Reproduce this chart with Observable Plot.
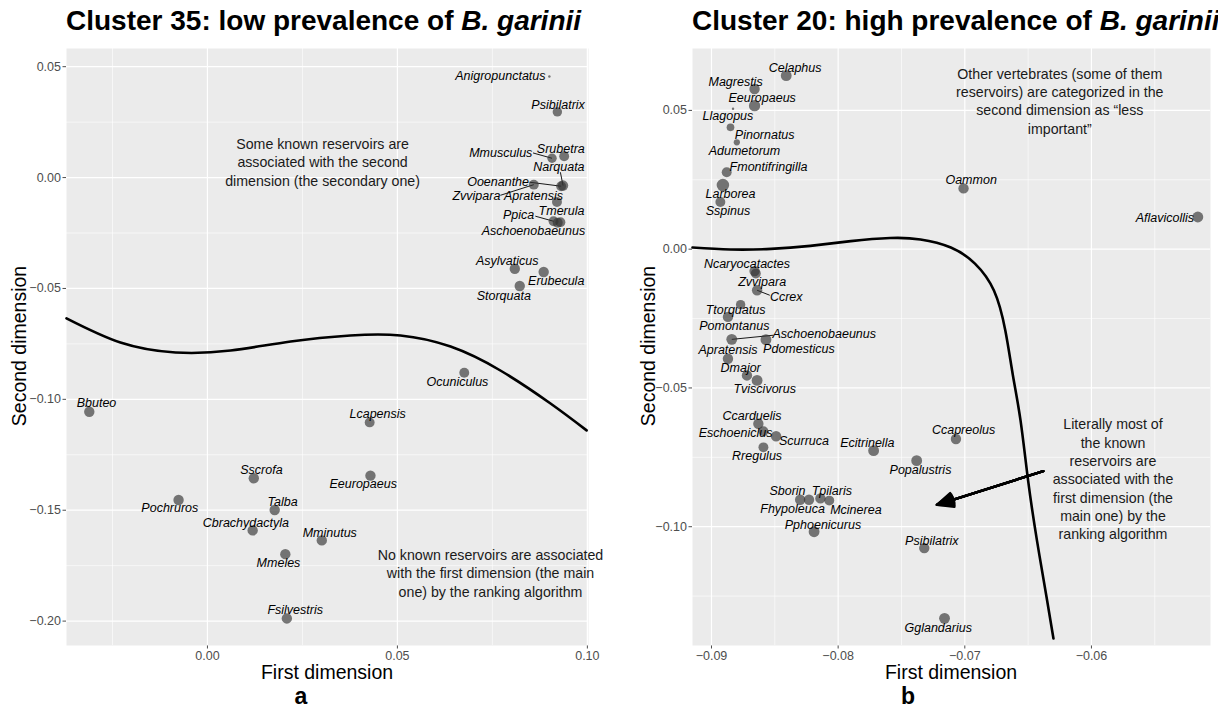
<!DOCTYPE html>
<html>
<head>
<meta charset="utf-8">
<script src="https://cdn.jsdelivr.net/npm/d3@7"></script>
<script src="https://cdn.jsdelivr.net/npm/@observablehq/plot@0.6"></script>
<style>
  html, body { margin: 0; padding: 0; background: white; }
  #root { position: relative; width: 1218px; height: 708px; overflow: hidden; font-family: "Liberation Sans", Helvetica, Arial, sans-serif; }
  .title { position: absolute; top: 5px; font-size: 28px; font-weight: bold; white-space: nowrap; color: #000; }
  .ytitle { position: absolute; font-size: 19.5px; white-space: nowrap; transform: translate(-50%, -50%) rotate(-90deg); color: #000; }
  .xtitle { position: absolute; font-size: 19.5px; white-space: nowrap; transform: translate(-50%, -50%); color: #000; }
  .tag { position: absolute; font-size: 23px; font-weight: bold; transform: translate(-50%, -50%); color: #000; }
  .panel { position: absolute; top: 40px; }
</style>
</head>
<body>
<div id="root">
  <div class="title" style="left:66px">Cluster 35: low prevalence of <i>B. garinii</i></div>
  <div class="title" style="left:692px">Cluster 20: high prevalence of <i>B. garinii</i></div>
  <div class="ytitle" style="left:19px; top:346px">Second dimension</div>
  <div class="ytitle" style="left:648px; top:346px">Second dimension</div>
  <div class="xtitle" style="left:327px; top:672px">First dimension</div>
  <div class="xtitle" style="left:951px; top:672px">First dimension</div>
  <div class="tag" style="left:301px; top:696px">a</div>
  <div class="tag" style="left:908px; top:696px">b</div>
  <div class="panel" id="left" style="left:0px"></div>
  <div class="panel" id="right" style="left:620px"></div>
</div>
<script>
// ---------------- Panel a: Cluster 35 ----------------
const leftNames = ["Anigropunctatus","Psibilatrix","Mmusculus","Srubetra","Narquata","Ooenanthe","Zvvipara","Apratensis","Tmerula","Ppica","Aschoenobaeunus","Asylvaticus","Erubecula","Storquata","Ocuniculus","Bbuteo","Lcapensis","Sscrofa","Eeuropaeus","Pochruros","Talba","Cbrachydactyla","Mminutus","Mmeles","Fsilvestris"];
const leftX = [0.0900,0.0921,0.0907,0.0939,0.0936,0.0931,0.0859,0.0920,0.0929,0.0911,0.0922,0.0809,0.0885,0.0822,0.0676,-0.0311,0.0427,0.0122,0.0429,-0.0076,0.0177,0.0119,0.0301,0.0205,0.0209];
const leftY = [0.0456,0.0296,0.0087,0.0096,-0.0036,-0.0039,-0.0032,-0.0110,-0.0201,-0.0197,-0.0204,-0.0411,-0.0426,-0.0489,-0.0880,-0.1056,-0.1104,-0.1356,-0.1344,-0.1454,-0.1499,-0.1591,-0.1636,-0.1698,-0.1988];
const leftWeight = [0.03,0.45,0.45,0.5,0.55,0.5,0.5,0.5,0.5,0.5,0.5,0.55,0.55,0.55,0.5,0.55,0.5,0.55,0.55,0.55,0.55,0.55,0.55,0.55,0.55];
// label anchor positions (data space, from the repelled labels)
const leftLabelX = [0.0771,0.0923,0.0772,0.0930,0.0925,0.0765,0.0708,0.0858,0.0932,0.0819,0.0858,0.0789,0.0918,0.0780,0.0658,-0.0292,0.0448,0.0142,0.0410,-0.0099,0.0198,0.0101,0.0322,0.0187,0.0231];
const leftLabelY = [0.0456,0.0329,0.0111,0.0131,0.0046,-0.0019,-0.0084,-0.0084,-0.0152,-0.0171,-0.0242,-0.0377,-0.0467,-0.0532,-0.0920,-0.1018,-0.1066,-0.1319,-0.1383,-0.1492,-0.1463,-0.1556,-0.1601,-0.1737,-0.1950];
// connector segments: label name, label-side end
const leftSegName = ["Mmusculus","Ooenanthe","Zvvipara","Narquata","Ppica"];
const leftSegX = [0.0857,0.0848,0.0771,0.0929,0.0863];
const leftSegY = [0.0111,-0.0021,-0.0080,0.0024,-0.0174];
// hand-drawn separating curve
const leftCurveX = [-0.0371,-0.0229,-0.0084,0.0061,0.0219,0.0376,0.0508,0.0640,0.0771,0.0903,0.0998];
const leftCurveY = [-0.0635,-0.0744,-0.0789,-0.0780,-0.0739,-0.0712,-0.0712,-0.0762,-0.0870,-0.1019,-0.1140];
const leftNotes = ["Some known reservoirs are\nassociated with the second\ndimension (the secondary one)", "No known reservoirs are associated\nwith the first dimension (the main\none) by the ranking algorithm"];
const leftNoteX = [0.0303, 0.0745];
const leftNoteY = [0.0072, -0.1781];
const leftXTicks = [0.00, 0.05, 0.10];
const leftXMinor = [-0.025, 0.025, 0.075];
const leftYTicks = [0.05, 0.00, -0.05, -0.10, -0.15, -0.20];
const leftYMinor = [0.025, -0.025, -0.075, -0.125, -0.175];

// ---------------- Panel b: Cluster 20 ----------------
const rightNames = ["Celaphus","Magrestis","Eeuropaeus","Llagopus","Pinornatus","Adumetorum","Fmontifringilla","Larborea","Sspinus","Oammon","Aflavicollis","Ncaryocatactes","Zvvipara","Ccrex","Ttorquatus","Pomontanus","Aschoenobaeunus","Pdomesticus","Apratensis","Dmajor","Tviscivorus","Ccarduelis","Eschoeniclus","Scurruca","Rregulus","Ecitrinella","Ccapreolus","Popalustris","Sborin","Fhypoleuca","Tpilaris","Mcinerea","Pphoenicurus","Psibilatrix","Gglandarius"];
const rightX = [-0.0841,-0.0866,-0.0866,-0.0883,-0.0885,-0.0880,-0.0888,-0.0891,-0.0893,-0.0701,-0.0516,-0.0866,-0.0865,-0.0864,-0.0877,-0.0887,-0.0884,-0.0857,-0.0887,-0.0872,-0.0864,-0.0863,-0.0859,-0.0849,-0.0859,-0.0772,-0.0707,-0.0738,-0.0830,-0.0823,-0.0814,-0.0807,-0.0819,-0.0732,-0.0716];
const rightY = [0.0625,0.0577,0.0517,0.0506,0.0439,0.0385,0.0277,0.0231,0.0170,0.0219,0.0116,-0.0079,-0.0088,-0.0148,-0.0200,-0.0244,-0.0325,-0.0326,-0.0395,-0.0455,-0.0473,-0.0629,-0.0656,-0.0674,-0.0714,-0.0726,-0.0684,-0.0762,-0.0903,-0.0903,-0.0898,-0.0906,-0.1018,-0.1077,-0.1330];
const rightWeight = [0.6,0.55,0.65,0.03,0.3,0.2,0.5,0.8,0.5,0.55,0.6,0.55,0.5,0.55,0.45,0.55,0.6,0.6,0.55,0.55,0.6,0.55,0.5,0.55,0.5,0.6,0.55,0.6,0.55,0.55,0.55,0.5,0.6,0.55,0.6];
const rightLabelX = [-0.0834,-0.0881,-0.0860,-0.0887,-0.0858,-0.0874,-0.0855,-0.0885,-0.0887,-0.0695,-0.0542,-0.0872,-0.0860,-0.0841,-0.0881,-0.0882,-0.0811,-0.0831,-0.0887,-0.0877,-0.0858,-0.0868,-0.0881,-0.0827,-0.0864,-0.0777,-0.0701,-0.0735,-0.0840,-0.0836,-0.0805,-0.0786,-0.0812,-0.0726,-0.0721];
const rightLabelY = [0.0652,0.0604,0.0544,0.0478,0.0412,0.0355,0.0297,0.0199,0.0137,0.0249,0.0113,-0.0052,-0.0120,-0.0172,-0.0218,-0.0277,-0.0307,-0.0358,-0.0365,-0.0427,-0.0505,-0.0602,-0.0662,-0.0692,-0.0746,-0.0698,-0.0653,-0.0794,-0.0873,-0.0936,-0.0873,-0.0939,-0.0993,-0.1051,-0.1364];
const rightSegName = ["Ccrex","Aschoenobaeunus"];
const rightSegX = [-0.0854,-0.0851];
const rightSegY = [-0.0166,-0.0310];
const rightCurveX = [-0.0915,-0.0885,-0.0853,-0.0822,-0.0790,-0.0759,-0.0735,-0.0711,-0.0692,-0.0677,-0.0668,-0.0662,-0.0656,-0.0650,-0.0643,-0.0635,-0.0630];
const rightCurveY = [0.0006,-0.0001,0.0001,0.0012,0.0029,0.0040,0.0035,0.0006,-0.0052,-0.0149,-0.0293,-0.0455,-0.0617,-0.0834,-0.1050,-0.1266,-0.1403];
const rightNotes = ["Other vertebrates (some of them\nreservoirs) are categorized in the\nsecond dimension as \u201cless\nimportant\u201d", "Literally most of\nthe known\nreservoirs are\nassociated with the\nfirst dimension (the\nmain one) by the\nranking algorithm"];
const rightNoteX = [-0.0625, -0.0583];
const rightNoteY = [0.0536, -0.0826];
const rightArrowFrom = [-0.0638, -0.0800];
const rightArrowTo = [-0.0722, -0.0921];
const rightXTicks = [-0.09, -0.08, -0.07, -0.06];
const rightXMinor = [-0.085, -0.075, -0.065, -0.055];
const rightYTicks = [0.05, 0.00, -0.05, -0.10];
const rightYMinor = [0.025, -0.025, -0.075, -0.125];

const FONT = "Liberation Sans, Helvetica, Arial, sans-serif";

function buildPanel(cfg) {
  const pts = cfg.names.map((n, i) => ({name: n, x: cfg.x[i], y: cfg.y[i], w: cfg.w[i], lx: cfg.lx[i], ly: cfg.ly[i]}));
  const byName = new Map(pts.map(p => [p.name, p]));
  const segs = cfg.segName.map((n, i) => ({x1: byName.get(n).x, y1: byName.get(n).y, x2: cfg.segX[i], y2: cfg.segY[i]}));
  const curve = cfg.curveX.map((x, i) => ({x, y: cfg.curveY[i]}));
  const notes = cfg.notes.map((t, i) => ({t, x: cfg.noteX[i], y: cfg.noteY[i]}));
  const marks = [
    Plot.frame({fill: "#ebebeb", stroke: "none"}),
    Plot.ruleX(cfg.xMinor, {stroke: "white", strokeWidth: 0.6}),
    Plot.ruleY(cfg.yMinor, {stroke: "white", strokeWidth: 0.6}),
    Plot.ruleX(cfg.xTicks, {stroke: "white", strokeWidth: 1.2}),
    Plot.ruleY(cfg.yTicks, {stroke: "white", strokeWidth: 1.2}),
    Plot.text(notes, {x: "x", y: "y", text: "t", fontSize: 14.2, lineHeight: 1.29, fill: "#1a1a1a", fontFamily: FONT}),
    Plot.line(curve, {x: "x", y: "y", curve: "natural", stroke: "black", strokeWidth: 2.6}),
    Plot.link(segs, {x1: "x1", y1: "y1", x2: "x2", y2: "y2", stroke: "black", strokeWidth: 0.9}),
    Plot.dot(pts, {x: "x", y: "y", r: "w", fill: "#333333", fillOpacity: 0.65, stroke: "none"}),
    Plot.text(pts, {x: "lx", y: "ly", text: "name", fontSize: 12.5, fontStyle: "italic", fill: "black", fontFamily: FONT})
  ];
  if (cfg.arrowFrom) {
    const arrowData = [{x1: cfg.arrowFrom[0], y1: cfg.arrowFrom[1], x2: cfg.arrowTo[0], y2: cfg.arrowTo[1]}];
    // closed (filled) head: overlay heads of several opening angles
    for (const a of [8, 18, 28, 38, 48]) {
      marks.push(Plot.arrow(arrowData, {x1: "x1", y1: "y1", x2: "x2", y2: "y2", stroke: "black", strokeWidth: 2.4, headLength: 11, headAngle: a}));
    }
  }
  return Plot.plot({
    width: cfg.width, height: 640,
    marginLeft: cfg.marginLeft, marginRight: cfg.marginRight, marginTop: 8, marginBottom: 35,
    style: {fontFamily: FONT, fontSize: "12.5px", color: "#4d4d4d", background: "transparent", overflow: "visible"},
    x: {domain: cfg.xDomain, ticks: cfg.xTicks, tickFormat: ".2f", tickSize: 3.5, tickPadding: 2, label: null},
    y: {domain: cfg.yDomain, ticks: cfg.yTicks, tickFormat: ".2f", tickSize: 3.5, tickPadding: 2, label: null},
    r: {type: "sqrt", domain: [0, 1], range: [0, 7]},
    marks
  });
}

document.getElementById("left").appendChild(buildPanel({
  names: leftNames, x: leftX, y: leftY, w: leftWeight, lx: leftLabelX, ly: leftLabelY,
  segName: leftSegName, segX: leftSegX, segY: leftSegY,
  curveX: leftCurveX, curveY: leftCurveY,
  notes: leftNotes, noteX: leftNoteX, noteY: leftNoteY,
  xTicks: leftXTicks, xMinor: leftXMinor, yTicks: leftYTicks, yMinor: leftYMinor,
  xDomain: [-0.0371, 0.1003], yDomain: [-0.2110, 0.0582],
  width: 600, marginLeft: 66, marginRight: 12
}));

document.getElementById("right").appendChild(buildPanel({
  names: rightNames, x: rightX, y: rightY, w: rightWeight, lx: rightLabelX, ly: rightLabelY,
  segName: rightSegName, segX: rightSegX, segY: rightSegY,
  curveX: rightCurveX, curveY: rightCurveY,
  notes: rightNotes, noteX: rightNoteX, noteY: rightNoteY,
  arrowFrom: rightArrowFrom, arrowTo: rightArrowTo,
  xTicks: rightXTicks, xMinor: rightXMinor, yTicks: rightYTicks, yMinor: rightYMinor,
  xDomain: [-0.0915, -0.0506], yDomain: [-0.1428, 0.0723],
  width: 598, marginLeft: 72, marginRight: 8
}));
</script>
</body>
</html>
